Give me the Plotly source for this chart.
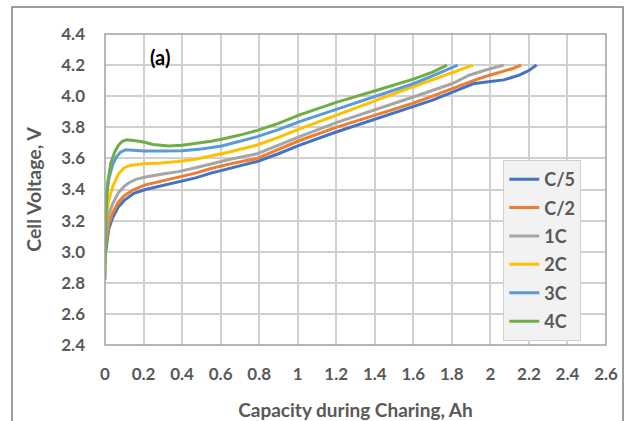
import plotly.graph_objects as go

# ---- data ----
names = ["C/5", "C/2", "1C", "2C", "3C", "4C"]
colors = ["#4472C4", "#ED7D31", "#A5A5A5", "#FFC000", "#5B9BD5", "#70AD47"]

x_c5 = [0, 0.005, 0.01, 0.02, 0.04, 0.07, 0.1, 0.15, 0.21, 0.3, 0.38, 0.47, 0.55, 0.65, 0.79, 0.9, 1.01,
        1.2, 1.4, 1.6, 1.7, 1.81, 1.91, 2.0, 2.07, 2.15, 2.2, 2.24]
y_c5 = [2.97, 3.02, 3.08, 3.15, 3.22, 3.29, 3.33, 3.375, 3.40, 3.425, 3.45, 3.475, 3.505, 3.535, 3.58, 3.63,
        3.686, 3.77, 3.85, 3.93, 3.975, 4.03, 4.08, 4.095, 4.105, 4.135, 4.165, 4.20]

x_c2 = [0, 0.005, 0.01, 0.02, 0.04, 0.07, 0.1, 0.15, 0.21, 0.3, 0.38, 0.47, 0.55, 0.65, 0.79, 0.9, 1.01,
        1.2, 1.4, 1.6, 1.7, 1.8, 1.89, 1.97, 2.07, 2.12, 2.16]
y_c2 = [3.0, 3.05, 3.1, 3.18, 3.25, 3.32, 3.36, 3.40, 3.43, 3.455, 3.48, 3.505, 3.535, 3.565, 3.60, 3.655,
        3.715, 3.80, 3.875, 3.955, 4.0, 4.05, 4.09, 4.125, 4.16, 4.18, 4.20]

x_1c = [0, 0.005, 0.01, 0.02, 0.04, 0.07, 0.1, 0.12, 0.16, 0.21, 0.3, 0.38, 0.47, 0.55, 0.65, 0.79, 0.9,
        1.01, 1.2, 1.4, 1.6, 1.8, 1.89, 1.98, 2.07]
y_1c = [3.05, 3.1, 3.16, 3.24, 3.31, 3.38, 3.42, 3.44, 3.465, 3.48, 3.50, 3.515, 3.54, 3.565, 3.595, 3.63,
        3.685, 3.74, 3.83, 3.91, 3.995, 4.08, 4.135, 4.17, 4.20]

x_2c = [0, 0.005, 0.01, 0.02, 0.04, 0.07, 0.1, 0.13, 0.2, 0.29, 0.38, 0.47, 0.55, 0.64, 0.79, 0.9, 1.01,
        1.2, 1.4, 1.53, 1.7, 1.8, 1.91]
y_2c = [3.1, 3.18, 3.25, 3.33, 3.42, 3.5, 3.54, 3.555, 3.565, 3.57, 3.58, 3.595, 3.615, 3.64, 3.686, 3.735,
        3.79, 3.88, 3.97, 4.03, 4.105, 4.15, 4.20]

x_3c = [0, 0.005, 0.01, 0.02, 0.04, 0.06, 0.08, 0.107, 0.15, 0.2, 0.3, 0.4, 0.5, 0.605, 0.7, 0.79, 0.9,
        1.01, 1.2, 1.4, 1.6, 1.7, 1.83]
y_3c = [3.2, 3.3, 3.38, 3.47, 3.56, 3.61, 3.64, 3.655, 3.65, 3.648, 3.648, 3.65, 3.66, 3.68, 3.71, 3.74,
        3.785, 3.836, 3.915, 3.995, 4.08, 4.13, 4.20]

x_4c = [0, 0.003, 0.007, 0.015, 0.03, 0.05, 0.07, 0.09, 0.113, 0.15, 0.2, 0.25, 0.33, 0.4, 0.47, 0.55,
        0.61, 0.7, 0.79, 0.9, 1.01, 1.2, 1.39, 1.6, 1.7, 1.775]
y_4c = [2.82, 3.1, 3.3, 3.45, 3.57, 3.64, 3.685, 3.71, 3.72, 3.715, 3.705, 3.69, 3.68, 3.685, 3.695, 3.71,
        3.725, 3.75, 3.78, 3.825, 3.88, 3.96, 4.03, 4.11, 4.155, 4.20]

xs = [x_c5, x_c2, x_1c, x_2c, x_3c, x_4c]
ys = [y_c5, y_c2, y_1c, y_2c, y_3c, y_4c]

x_title = "Capacity during Charing, Ah"
y_title = "Cell Voltage, V"
panel_label = "(a)"

FONT = "Lato, 'Open Sans', sans-serif"
GRAY_TXT = "#595959"

fig = go.Figure()
for n, c, x, y in zip(names, colors, xs, ys):
    fig.add_trace(go.Scatter(x=x, y=y, mode="lines", name=n, legendgroup=n,
                             line=dict(color=c, width=3)))

fig.update_layout(
    width=626, height=421,
    margin=dict(l=105, r=20, t=34, b=76),
    paper_bgcolor="white", plot_bgcolor="white",
    font=dict(family=FONT, color=GRAY_TXT),
    showlegend=True,
    legend=dict(
        x=0.795, y=0.595, xanchor="left", yanchor="top",
        bgcolor="#F2F2F2", bordercolor="#D0D0D0", borderwidth=1,
        font=dict(family=FONT, size=18, color=GRAY_TXT, weight="bold"),
        traceorder="grouped", tracegroupgap=2, itemwidth=30,
    ),
    xaxis=dict(
        range=[0, 2.6], dtick=0.2, tick0=0, automargin=False,
        showgrid=True, gridcolor="#D0D0D0", gridwidth=1.5,
        zeroline=False, showline=False, ticks="",
        ticklabelstandoff=17,
        tickfont=dict(family=FONT, size=17, color=GRAY_TXT, weight="bold"),
        title=dict(text=x_title, standoff=20,
                   font=dict(family=FONT, size=19, color=GRAY_TXT, weight="bold")),
    ),
    yaxis=dict(
        range=[2.4, 4.4], dtick=0.2, tick0=2.4, tickformat=".1f", automargin=False,
        showgrid=True, gridcolor="#D0D0D0", gridwidth=1.5,
        zeroline=False, showline=False, ticks="",
        ticklabelstandoff=19,
        tickfont=dict(family=FONT, size=17, color=GRAY_TXT, weight="bold"),
        title=dict(text=y_title, standoff=14,
                   font=dict(family=FONT, size=19.5, color=GRAY_TXT, weight="bold")),
    ),
    annotations=[dict(text=panel_label, x=0.11, y=0.925, xref="paper", yref="paper",
                      showarrow=False, xanchor="center", yanchor="middle",
                      font=dict(family=FONT, size=20, color="black", weight="bold"))],
    shapes=[
        # plot area frame
        dict(type="rect", xref="paper", yref="paper", x0=0, x1=1, y0=0, y1=1,
             line=dict(color="#A0A0A0", width=1.5), layer="above"),
        # outer chart frame
        dict(type="rect", xref="paper", yref="paper", x0=-0.1856, x1=1.034, y0=-0.26, y1=1.0868,
             line=dict(color="#7F7F7F", width=1.5), layer="above"),
    ],
)

fig.write_html("out.html")
